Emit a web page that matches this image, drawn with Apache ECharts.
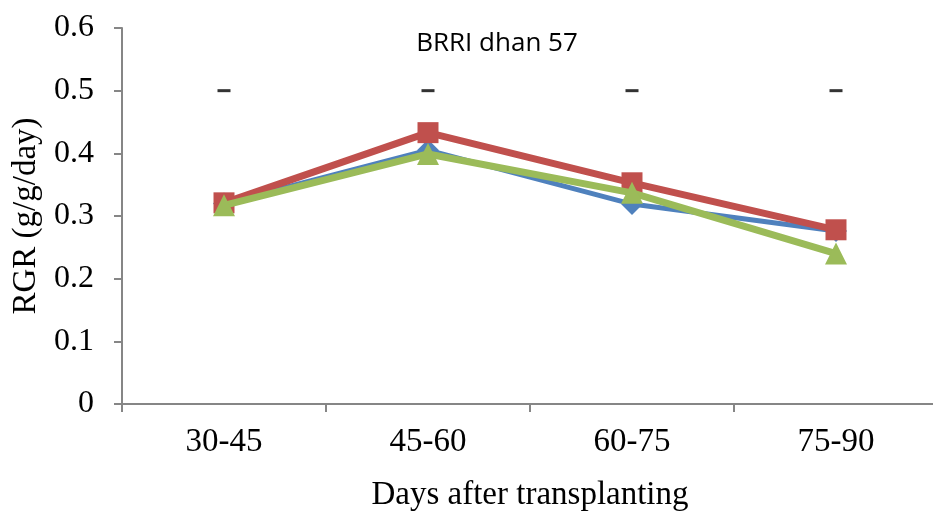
<!DOCTYPE html>
<html>
<head>
<meta charset="utf-8">
<script src="https://cdn.jsdelivr.net/npm/echarts@6/dist/echarts.min.js"></script>
<style>html,body{margin:0;padding:0;background:#fff}#c{width:933px;height:512px}</style>
</head>
<body>
<div id="c"></div>
<script>
var categories = ['30-45', '45-60', '60-75', '75-90'];
var blueSeries = [0.320, 0.405, 0.319, 0.276];
var redSeries = [0.321, 0.433, 0.353, 0.278];
var greenSeries = [0.317, 0.399, 0.337, 0.240];
var dashValues = [0.5, 0.5, 0.5, 0.5];
var yTicks = [0, 0.1, 0.2, 0.3, 0.4, 0.5, 0.6];

var serif = '"Liberation Serif", "Times New Roman", serif';
var sans = '"Open Sans", "Liberation Sans", sans-serif';
var chart = echarts.init(document.getElementById('c'));
chart.setOption({
  animation: false,
  backgroundColor: '#fff',
  title: {
    text: 'BRRI dhan 57',
    left: 492, top: 26, textAlign: 'center',
    textStyle: { fontFamily: sans, fontSize: 26, fontWeight: 'normal', color: '#000' }
  },
  grid: { left: 122, right: -5, top: 28, bottom: 108, outerBoundsMode: 'none', containLabel: false },
  xAxis: {
    type: 'category',
    data: categories,
    boundaryGap: true,
    axisLine: { lineStyle: { color: '#868686', width: 2 } },
    axisTick: { show: true, length: 8, lineStyle: { color: '#868686', width: 2 } },
    axisLabel: { fontFamily: serif, fontSize: 33, color: '#000', margin: 22 },
    name: 'Days after transplanting',
    nameLocation: 'middle',
    nameGap: 75,
    nameTextStyle: { fontFamily: serif, fontSize: 33, color: '#000' }
  },
  yAxis: {
    type: 'value',
    min: yTicks[0], max: yTicks[yTicks.length - 1], interval: 0.1,
    axisLine: { show: true, lineStyle: { color: '#868686', width: 2 } },
    axisTick: { show: true, length: 8, lineStyle: { color: '#868686', width: 2 } },
    splitLine: { show: false },
    axisLabel: { fontFamily: serif, fontSize: 32, color: '#000', margin: 28,
      formatter: function (v) { return v === 0 ? '0' : v.toFixed(1); } },
    name: 'RGR (g/g/day)',
    nameLocation: 'middle',
    nameGap: 78,
    nameRotate: 90,
    nameTextStyle: { fontFamily: serif, fontSize: 33, color: '#000' }
  },
  series: [
    { type: 'line', data: blueSeries, symbol: 'diamond', symbolSize: 22,
      lineStyle: { color: '#4F81BD', width: 5 }, itemStyle: { color: '#4F81BD' }, z: 2 },
    { type: 'line', data: redSeries, symbol: 'rect', symbolSize: 21,
      lineStyle: { color: '#C0504D', width: 7 }, itemStyle: { color: '#C0504D' }, z: 3 },
    { type: 'line', data: greenSeries, symbol: 'triangle', symbolSize: 22,
      lineStyle: { color: '#9BBB59', width: 7 }, itemStyle: { color: '#9BBB59' }, z: 4 },
    { type: 'scatter', data: dashValues, symbol: 'rect', symbolSize: [13, 3],
      itemStyle: { color: '#000' }, z: 5 }
  ]
});
</script>
</body>
</html>
